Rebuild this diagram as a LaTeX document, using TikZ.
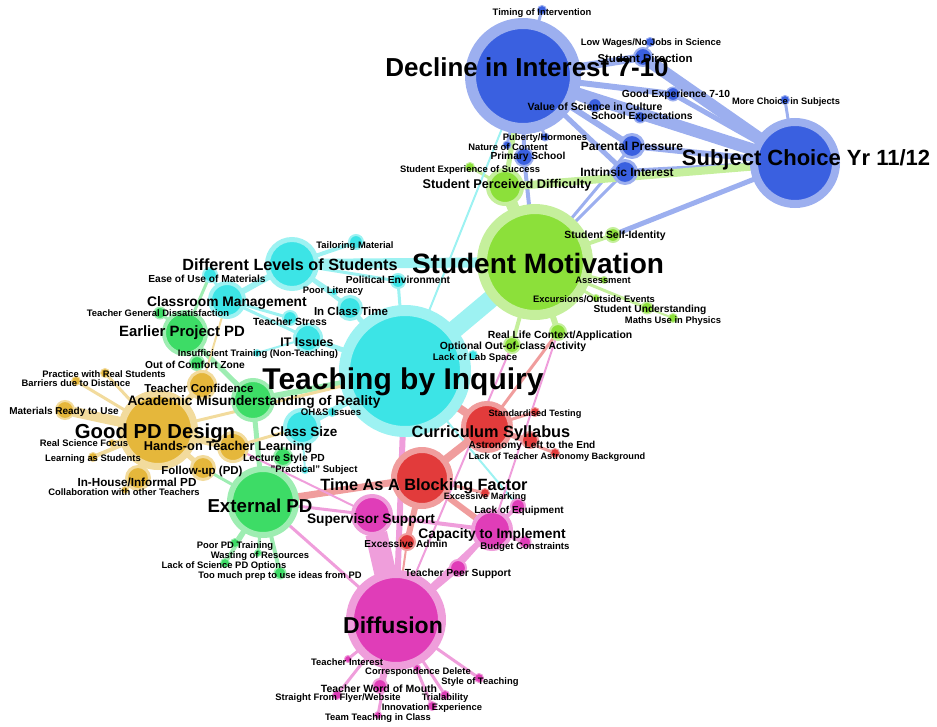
\documentclass[tikz,border=0pt]{standalone}
\usepackage{fontspec}
\setmainfont{Liberation Sans}
\usepackage{tikz}
\usetikzlibrary{backgrounds}
\definecolor{cb}{HTML}{3A60E0}
\definecolor{cg}{HTML}{8CE03A}
\definecolor{cc}{HTML}{3CE4E6}
\definecolor{ce}{HTML}{3DDC66}
\definecolor{cy}{HTML}{E5B73B}
\definecolor{cr}{HTML}{E23B3B}
\definecolor{cm}{HTML}{E03DB8}

\begin{document}
\begin{tikzpicture}[
  x=1pt,y=-1pt,
  vx/.style n args={3}{circle,inner sep=0pt,outer sep=0pt,fill=#1,draw=#1!50,line width=#3pt,minimum size=2*#2pt+#3pt},
  lb/.style={font=\fontsize{#1}{#1}\selectfont\bfseries,inner sep=0pt},
  lk/.style n args={2}{draw=#1!50,line width=#2pt}
]
\useasboundingbox (0,0) rectangle (937,726);
% blue cluster
\node[vx={cb}{47}{11}] (dec) at (523,76) {};
\node[vx={cb}{37}{8}] (subj) at (795,163) {};
\node[vx={cb}{4}{1}] (timing) at (542,10) {};
\node[vx={cb}{4}{1}] (lowwage) at (650,42) {};
\node[vx={cb}{8}{2}] (sdir) at (643,57) {};
\node[vx={cb}{6}{1.5}] (goodexp) at (673,94) {};
\node[vx={cb}{4}{1}] (morech) at (785,100) {};
\node[vx={cb}{6}{1.5}] (valsci) at (595,105) {};
\node[vx={cb}{5}{1.5}] (schexp) at (640,117) {};
\node[vx={cb}{3.5}{1}] (puberty) at (545,137) {};
\node[vx={cb}{3.5}{1}] (nature) at (507,145) {};
\node[vx={cb}{8}{2}] (primary) at (524,157) {};
\node[vx={cb}{10}{3}] (parent) at (632,146) {};
\node[vx={cb}{10}{3}] (intr) at (625,172) {};
% green cluster
\node[vx={cg}{48}{10}] (motiv) at (535,262) {};
\node[vx={cg}{15}{4}] (diffic) at (505,187) {};
\node[vx={cg}{4}{1}] (success) at (470,167) {};
\node[vx={cg}{6}{2}] (selfid) at (613,235) {};
\node[vx={cg}{3}{1}] (assess) at (604,280) {};
\node[vx={cg}{3}{1}] (excurs) at (596,298) {};
\node[vx={cg}{5}{1.5}] (underst) at (647,308) {};
\node[vx={cg}{4}{1}] (maths) at (673,318) {};
\node[vx={cg}{7}{2}] (reallife) at (558,332) {};
\node[vx={cg}{7}{2}] (optional) at (512,345) {};
% cyan cluster
\node[vx={cc}{55}{11}] (inquiry) at (405,371) {};
\node[vx={cc}{22}{5}] (levels) at (292,264) {};
\node[vx={cc}{6}{2}] (tailor) at (356,242) {};
\node[vx={cc}{6}{2}] (politic) at (398,281) {};
\node[vx={cc}{6}{2}] (ease) at (210,275) {};
\node[vx={cc}{15}{4}] (classroom) at (227,300) {};
\node[vx={cc}{3}{1}] (poorlit) at (334,292) {};
\node[vx={cc}{10}{3}] (inclass) at (350,308) {};
\node[vx={cc}{6}{2}] (stress) at (290,318) {};
\node[vx={cc}{12}{3}] (itiss) at (308,338) {};
\node[vx={cc}{3}{1}] (insuff) at (257,353) {};
\node[vx={cc}{4}{1}] (ohs) at (332,412) {};
\node[vx={cc}{15}{4}] (clsize) at (302,427) {};
\node[vx={cc}{4}{1}] (labspace) at (473,355) {};
\node[vx={cc}{3}{1}] (practical) at (305,470) {};
% PD cluster
\node[vx={ce}{30}{6}] (extpd) at (263,502) {};
\node[vx={ce}{19}{4}] (earlier) at (185,333) {};
\node[vx={ce}{18}{4}] (academic) at (253,400) {};
\node[vx={ce}{5}{1.5}] (gendis) at (160,313) {};
\node[vx={ce}{6}{2}] (comfort) at (197,363) {};
\node[vx={ce}{8}{2}] (lecture) at (283,457) {};
\node[vx={ce}{4}{1}] (poorpd) at (235,543) {};
\node[vx={ce}{3}{1}] (wasting) at (258,553) {};
\node[vx={ce}{4}{1}] (lacksci) at (225,563) {};
\node[vx={ce}{5}{1.5}] (toomuch) at (280,573) {};
% design cluster
\node[vx={cy}{33}{7}] (gooddes) at (158,430) {};
\node[vx={cy}{12}{3}] (confid) at (202,385) {};
\node[vx={cy}{4}{1}] (practice) at (105,373) {};
\node[vx={cy}{4}{1}] (barriers) at (76,381) {};
\node[vx={cy}{8}{2}] (materials) at (65,410) {};
\node[vx={cy}{3}{1}] (realsci) at (112,443) {};
\node[vx={cy}{13}{3}] (handson) at (233,447) {};
\node[vx={cy}{4}{1}] (learning) at (93,457) {};
\node[vx={cy}{10}{3}] (followup) at (203,468) {};
\node[vx={cy}{10}{3}] (inhouse) at (138,478) {};
\node[vx={cy}{3}{1}] (collab) at (125,490) {};
% red cluster
\node[vx={cr}{21}{5}] (curric) at (487,427) {};
\node[vx={cr}{25}{6}] (timeblk) at (422,478) {};
\node[vx={cr}{4}{1}] (standard) at (535,412) {};
\node[vx={cr}{7}{2}] (astro) at (530,440) {};
\node[vx={cr}{4}{1}] (lackastro) at (555,453) {};
\node[vx={cr}{4}{1}] (marking) at (485,493) {};
\node[vx={cr}{7}{2}] (admin) at (407,542) {};
% magenta cluster
\node[vx={cm}{42}{8}] (diffusion) at (396,620) {};
\node[vx={cm}{17}{4}] (superv) at (372,515) {};
\node[vx={cm}{17}{4}] (capacity) at (492,530) {};
\node[vx={cm}{6}{2}] (lackeq) at (518,506) {};
\node[vx={cm}{5}{1.5}] (budget) at (525,542) {};
\node[vx={cm}{7}{2}] (peer) at (458,568) {};
\node[vx={cm}{3}{1}] (interest) at (348,659) {};
\node[vx={cm}{3}{1}] (corresp) at (417,668) {};
\node[vx={cm}{4}{1}] (style) at (479,678) {};
\node[vx={cm}{6}{2}] (wordmouth) at (380,686) {};
\node[vx={cm}{4}{1}] (flyer) at (337,695) {};
\node[vx={cm}{4}{1}] (trial) at (445,695) {};
\node[vx={cm}{4}{1}] (innov) at (432,706) {};
\node[vx={cm}{3}{1}] (teamteach) at (378,715) {};

\begin{scope}[on background layer]
% blue links
\draw[lk={cb}{12}] (dec) -- (subj);
\draw[lk={cb}{8}] (dec) -- (sdir);
\draw[lk={cb}{12}] (sdir) -- (subj);
\draw[lk={cb}{2}] (sdir) -- (lowwage);
\draw[lk={cb}{3}] (dec) -- (timing);
\draw[lk={cb}{6}] (dec) -- (goodexp);
\draw[lk={cb}{5}] (goodexp) -- (subj);
\draw[lk={cb}{5}] (dec) -- (valsci);
\draw[lk={cb}{5}] (dec) -- (schexp);
\draw[lk={cb}{5}] (schexp) -- (subj);
\draw[lk={cb}{6}] (dec) -- (parent);
\draw[lk={cb}{6}] (parent) -- (subj);
\draw[lk={cb}{5}] (dec) -- (intr);
\draw[lk={cb}{6}] (intr) -- (subj);
\draw[lk={cb}{3}] (dec) -- (puberty);
\draw[lk={cb}{3}] (dec) -- (nature);
\draw[lk={cb}{4}] (dec) -- (primary);
\draw[lk={cb}{3}] (subj) -- (morech);
\draw[lk={cb}{5}] (subj) -- (selfid);
\draw[lk={cb}{3}] (intr) -- (motiv);
\draw[lk={cb}{3}] (parent) -- (motiv);
\draw[lk={cb}{4}] (primary) -- (motiv);
% green links
\draw[lk={cg}{12}] (motiv) -- (diffic);
\draw[lk={cg}{3}] (diffic) -- (success);
\draw[lk={cg}{8}] (diffic) -- (subj);
\draw[lk={cg}{5}] (diffic) -- (dec);
\draw[lk={cg}{4}] (motiv) -- (selfid);
\draw[lk={cg}{3}] (motiv) -- (assess);
\draw[lk={cg}{3}] (motiv) -- (excurs);
\draw[lk={cg}{3}] (motiv) -- (underst);
\draw[lk={cg}{2}] (underst) -- (maths);
\draw[lk={cg}{6}] (motiv) -- (reallife);
\draw[lk={cg}{4}] (motiv) -- (optional);
% cyan links
\draw[lk={cc}{18}] (inquiry) -- (motiv);
\draw[lk={cc}{10}] (levels) -- (motiv);
\draw[lk={cc}{4}] (levels) -- (inclass);
\draw[lk={cc}{3}] (levels) -- (politic);
\draw[lk={cc}{4}] (levels) -- (tailor);
\draw[lk={cc}{6}] (levels) -- (classroom);
\draw[lk={cc}{2}] (levels) -- (poorlit);
\draw[lk={cc}{3}] (classroom) -- (ease);
\draw[lk={cc}{3}] (classroom) -- (stress);
\draw[lk={cc}{3}] (classroom) -- (itiss);
\draw[lk={cc}{5}] (itiss) -- (inquiry);
\draw[lk={cc}{5}] (inclass) -- (inquiry);
\draw[lk={cc}{3}] (politic) -- (inquiry);
\draw[lk={cc}{6}] (inquiry) -- (clsize);
\draw[lk={cc}{3}] (inquiry) -- (ohs);
\draw[lk={cc}{2}] (inquiry) -- (labspace);
\draw[lk={cc}{2}] (inquiry) -- (dec);
\draw[lk={cc}{2}] (inquiry) -- (lackeq);
\draw[lk={cc}{2}] (itiss) -- (insuff);
\draw[lk={cc}{2}] (clsize) -- (practical);
% PD links
\draw[lk={ce}{5}] (extpd) -- (academic);
\draw[lk={ce}{5}] (academic) -- (earlier);
\draw[lk={ce}{6}] (academic) -- (inquiry);
\draw[lk={ce}{3}] (earlier) -- (ease);
\draw[lk={ce}{3}] (earlier) -- (gendis);
\draw[lk={ce}{3}] (earlier) -- (comfort);
\draw[lk={ce}{4}] (extpd) -- (lecture);
\draw[lk={ce}{3}] (extpd) -- (followup);
\draw[lk={ce}{4}] (extpd) -- (poorpd);
\draw[lk={ce}{3}] (extpd) -- (wasting);
\draw[lk={ce}{4}] (extpd) -- (lacksci);
\draw[lk={ce}{4}] (extpd) -- (toomuch);
% design links
\draw[lk={cy}{6}] (gooddes) -- (confid);
\draw[lk={cy}{3}] (gooddes) -- (practice);
\draw[lk={cy}{3}] (gooddes) -- (barriers);
\draw[lk={cy}{10}] (gooddes) -- (materials);
\draw[lk={cy}{3}] (gooddes) -- (realsci);
\draw[lk={cy}{8}] (gooddes) -- (handson);
\draw[lk={cy}{4}] (gooddes) -- (learning);
\draw[lk={cy}{5}] (gooddes) -- (followup);
\draw[lk={cy}{6}] (gooddes) -- (inhouse);
\draw[lk={cy}{3}] (inhouse) -- (collab);
\draw[lk={cy}{2}] (confid) -- (classroom);
\draw[lk={cy}{3}] (gooddes) -- (inquiry);
\draw[lk={cy}{3}] (handson) -- (clsize);
% red links
\draw[lk={cr}{8}] (curric) -- (inquiry);
\draw[lk={cr}{8}] (curric) -- (timeblk);
\draw[lk={cr}{3}] (curric) -- (standard);
\draw[lk={cr}{4}] (curric) -- (astro);
\draw[lk={cr}{3}] (curric) -- (lackastro);
\draw[lk={cr}{3}] (curric) -- (reallife);
\draw[lk={cr}{7}] (timeblk) -- (extpd);
\draw[lk={cr}{6}] (timeblk) -- (admin);
\draw[lk={cr}{6}] (timeblk) -- (capacity);
\draw[lk={cr}{3}] (timeblk) -- (marking);
\draw[lk={cr}{2}] (admin) -- (diffusion);
% magenta links
\draw[lk={cm}{22}] (diffusion) -- (superv);
\draw[lk={cm}{6}] (diffusion) -- (inquiry);
\draw[lk={cm}{5}] (diffusion) -- (capacity);
\draw[lk={cm}{6}] (diffusion) -- (peer);
\draw[lk={cm}{3}] (diffusion) -- (extpd);
\draw[lk={cm}{2}] (diffusion) -- (optional);
\draw[lk={cm}{2}] (capacity) -- (reallife);
\draw[lk={cm}{3}] (diffusion) -- (interest);
\draw[lk={cm}{3}] (diffusion) -- (corresp);
\draw[lk={cm}{3}] (diffusion) -- (style);
\draw[lk={cm}{5}] (diffusion) -- (wordmouth);
\draw[lk={cm}{3}] (diffusion) -- (flyer);
\draw[lk={cm}{3}] (diffusion) -- (trial);
\draw[lk={cm}{3}] (diffusion) -- (innov);
\draw[lk={cm}{3}] (diffusion) -- (teamteach);
\draw[lk={cm}{4}] (superv) -- (capacity);
\draw[lk={cm}{3}] (superv) -- (extpd);
\draw[lk={cm}{4}] (capacity) -- (lackeq);
\draw[lk={cm}{4}] (capacity) -- (budget);
\draw[lk={cm}{3}] (capacity) -- (peer);
\draw[lk={cm}{2}] (handson) -- (superv);
\end{scope}

% labels
\node[lb=26] (t-dec) at (527,67) {Decline in Interest 7-10};
\node[lb=22] (t-subj) at (806,160) {Subject Choice Yr 11/12};
\node[lb=9.4] (t-timing) at (542,13) {Timing of Intervention};
\node[lb=9.4] (t-lowwage) at (651,43) {Low Wages/No Jobs in Science};
\node[lb=11.4] (t-sdir) at (645,58) {Student Direction};
\node[lb=10.3] (t-goodexp) at (676,95) {Good Experience 7-10};
\node[lb=9.3] (t-morech) at (786,102) {More Choice in Subjects};
\node[lb=10.5] (t-valsci) at (595,107) {Value of Science in Culture};
\node[lb=10.3] (t-schexp) at (642,117) {School Expectations};
\node[lb=9.4] (t-puberty) at (545,138) {Puberty/Hormones};
\node[lb=9.4] (t-nature) at (508,147) {Nature of Content};
\node[lb=10.2] (t-primary) at (528,157) {Primary School};
\node[lb=12] (t-parent) at (632,146) {Parental Pressure};
\node[lb=12] (t-intr) at (627,172) {Intrinsic Interest};
\node[lb=9.4] (t-success) at (470,170) {Student Experience of Success};
\node[lb=12.7] (t-diffic) at (507,185) {Student Perceived Difficulty};
\node[lb=28] (t-motiv) at (538,263) {Student Motivation};
\node[lb=10.4] (t-selfid) at (615,236) {Student Self-Identity};
\node[lb=9.4] (t-assess) at (603,280) {Assessment};
\node[lb=9.4] (t-excurs) at (594,299) {Excursions/Outside Events};
\node[lb=10.2] (t-underst) at (650,310) {Student Understanding};
\node[lb=9.4] (t-maths) at (673,321) {Maths Use in Physics};
\node[lb=10.4] (t-reallife) at (560,336) {Real Life Context/Application};
\node[lb=10.4] (t-optional) at (513,347) {Optional Out-of-class Activity};
\node[lb=30] (t-inquiry) at (403,382) {Teaching by Inquiry};
\node[lb=16.2] (t-levels) at (290,265) {Different Levels of Students};
\node[lb=9.4] (t-tailor) at (355,246) {Tailoring Material};
\node[lb=10.2] (t-politic) at (398,280) {Political Environment};
\node[lb=10.2] (t-ease) at (207,279) {Ease of Use of Materials};
\node[lb=13.8] (t-classroom) at (227,303) {Classroom Management};
\node[lb=9.4] (t-poorlit) at (333,291) {Poor Literacy};
\node[lb=11.5] (t-inclass) at (351,311) {In Class Time};
\node[lb=10.4] (t-stress) at (290,322) {Teacher Stress};
\node[lb=12.4] (t-itiss) at (307,342) {IT Issues};
\node[lb=9.4] (t-insuff) at (258,354) {Insufficient Training (Non-Teaching)};
\node[lb=9.6] (t-ohs) at (331,412) {OH\&S Issues};
\node[lb=13.5] (t-clsize) at (304,432) {Class Size};
\node[lb=9.6] (t-labspace) at (475,358) {Lack of Lab Space};
\node[lb=9.6] (t-practical) at (314,470) {"Practical" Subject};
\node[lb=18.7] (t-extpd) at (260,506) {External PD};
\node[lb=14.9] (t-earlier) at (182,333) {Earlier Project PD};
\node[lb=13.75] (t-academic) at (254,402) {Academic Misunderstanding of Reality};
\node[lb=9.4] (t-gendis) at (158,313) {Teacher General Dissatisfaction};
\node[lb=10.2] (t-comfort) at (195,365) {Out of Comfort Zone};
\node[lb=10.3] (t-lecture) at (284,459) {Lecture Style PD};
\node[lb=9.4] (t-poorpd) at (235,546) {Poor PD Training};
\node[lb=9.4] (t-wasting) at (260,556) {Wasting of Resources};
\node[lb=9.4] (t-lacksci) at (224,566) {Lack of Science PD Options};
\node[lb=9.4] (t-toomuch) at (280,576) {Too much prep to use ideas from PD};
\node[lb=20.3] (t-gooddes) at (155,433) {Good PD Design};
\node[lb=11.5] (t-confid) at (199,388) {Teacher Confidence};
\node[lb=9.4] (t-practice) at (104,374) {Practice with Real Students};
\node[lb=9.4] (t-barriers) at (76,383) {Barriers due to Distance};
\node[lb=10] (t-materials) at (64,412) {Materials Ready to Use};
\node[lb=9.4] (t-realsci) at (84,443) {Real Science Focus};
\node[lb=12.8] (t-handson) at (228,447) {Hands-on Teacher Learning};
\node[lb=9.4] (t-learning) at (93,459) {Learning as Students};
\node[lb=11.5] (t-followup) at (202,472) {Follow-up (PD)};
\node[lb=11.7] (t-inhouse) at (137,482) {In-House/Informal PD};
\node[lb=9.4] (t-collab) at (124,492) {Collaboration with other Teachers};
\node[lb=16.3] (t-curric) at (491,433) {Curriculum Syllabus};
\node[lb=16.3] (t-timeblk) at (424,486) {Time As A Blocking Factor};
\node[lb=9.2] (t-standard) at (535,414) {Standardised Testing};
\node[lb=10.1] (t-astro) at (532,446) {Astronomy Left to the End};
\node[lb=9.2] (t-lackastro) at (557,457) {Lack of Teacher Astronomy Background};
\node[lb=9.2] (t-marking) at (485,497) {Excessive Marking};
\node[lb=10.1] (t-admin) at (406,544) {Excessive Admin};
\node[lb=23] (t-diffusion) at (393,625) {Diffusion};
\node[lb=13.7] (t-superv) at (371,520) {Supervisor Support};
\node[lb=13.8] (t-capacity) at (492,535) {Capacity to Implement};
\node[lb=10] (t-lackeq) at (519,511) {Lack of Equipment};
\node[lb=9.6] (t-budget) at (525,547) {Budget Constraints};
\node[lb=10.3] (t-peer) at (458,574) {Teacher Peer Support};
\node[lb=9.4] (t-interest) at (347,662) {Teacher Interest};
\node[lb=9.4] (t-corresp) at (418,672) {Correspondence Delete};
\node[lb=9.4] (t-style) at (480,682) {Style of Teaching};
\node[lb=10.5] (t-wordmouth) at (379,689) {Teacher Word of Mouth};
\node[lb=9.4] (t-flyer) at (338,698) {Straight From Flyer/Website};
\node[lb=9.4] (t-trial) at (445,698) {Trialability};
\node[lb=9.4] (t-innov) at (432,708) {Innovation Experience};
\node[lb=9.4] (t-teamteach) at (378,718) {Team Teaching in Class};
\end{tikzpicture}
\end{document}
